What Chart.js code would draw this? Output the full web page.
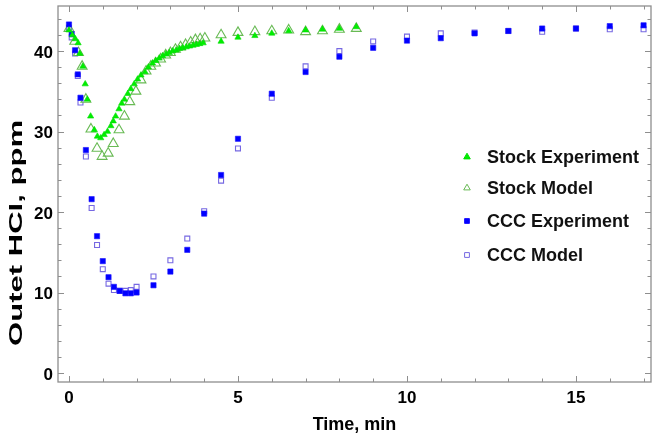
<!DOCTYPE html>
<html>
<head>
<meta charset="utf-8">
<script src="https://cdn.jsdelivr.net/npm/chart.js@4.4.1/dist/chart.umd.min.js"></script>
<style>
  html, body { margin: 0; padding: 0; background: #ffffff; }
  #wrap { width: 652px; height: 438px; }
</style>
</head>
<body>
<div id="wrap"><canvas id="chart" width="652" height="438"></canvas></div>
<script>
// Outlet HCl concentration (ppm) versus time (min)

const stockExpTime = [0, 0.1, 0.19, 0.27, 0.32, 0.41, 0.48, 0.54, 0.64, 0.75,
  0.84, 0.94, 1.04, 1.14, 1.24, 1.31, 1.38, 1.48, 1.56, 1.64,
  1.74, 1.83, 1.93, 2.03, 2.13, 2.25, 2.35, 2.47, 2.57, 2.67,
  2.77, 2.87, 2.97, 3.07, 3.17, 3.27, 3.37, 3.47, 3.57, 3.67,
  3.77, 3.87, 3.97, 4.5, 5, 5.5, 6, 6.5, 7, 7.5, 8, 8.5];
const stockExpHCl = [42.6, 42.0, 41.5, 41.0, 39.7, 38.1, 35.9, 34.0, 31.9, 30.2,
  29.4, 29.2, 29.6, 30.0, 30.7, 31.3, 31.9, 32.8, 33.5, 34.0,
  34.7, 35.3, 35.9, 36.5, 37.0, 37.4, 38.0, 38.5, 38.8, 39.1,
  39.4, 39.6, 39.8, 40.0, 40.1, 40.3, 40.4, 40.5, 40.6, 40.7,
  40.8, 40.9, 41.0, 41.2, 41.7, 41.9, 42.2, 42.5, 42.6, 42.7, 42.8, 43.0];

const stockModelTime = [0, 0.17, 0.28, 0.39, 0.5, 0.65, 0.83, 0.98, 1.16, 1.31,
  1.48, 1.64, 1.8, 1.98, 2.13, 2.28, 2.42, 2.56, 2.71, 2.86,
  3.0, 3.15, 3.3, 3.45, 3.6, 3.74, 3.88, 4.02,
  4.5, 5, 5.5, 6, 6.5, 7, 7.5, 8, 8.5];
const stockModelHCl = [42.8, 41.2, 39.8, 38.1, 34.0, 30.3, 27.9, 26.9, 27.3, 28.5,
  30.2, 31.9, 33.7, 35.0, 36.4, 37.5, 38.1, 38.5, 39.0, 39.5,
  39.8, 40.2, 40.5, 40.8, 41.1, 41.4, 41.5, 41.6,
  42.0, 42.3, 42.4, 42.5, 42.6, 42.4, 42.5, 42.7, 42.8];

const cccTime = [0, 0.08, 0.18, 0.26, 0.34, 0.5, 0.67, 0.83, 1, 1.17,
  1.33, 1.5, 1.67, 1.83, 2, 2.5, 3, 3.5, 4, 4.5,
  5, 6, 7, 8, 9, 10, 11, 12, 13, 14, 15, 16, 17];
const cccExpHCl = [43.3, 42.1, 40.1, 37.1, 34.2, 27.7, 21.6, 17.0, 13.9, 11.9,
  10.7, 10.2, 9.9, 9.9, 10.0, 10.9, 12.6, 15.3, 19.8, 24.6,
  29.1, 34.7, 37.4, 39.3, 40.4, 41.3, 41.6, 42.2, 42.5, 42.8, 42.8, 43.1, 43.2];
const cccModelHCl = [42.9, 41.7, 39.7, 36.9, 33.6, 26.9, 20.5, 15.9, 12.9, 11.1,
  10.3, 10.2, 10.2, 10.3, 10.7, 12.0, 14.0, 16.7, 20.1, 23.9,
  27.9, 34.2, 38.1, 40.0, 41.2, 41.8, 42.2, 42.3, 42.5, 42.4, 42.8, 42.7, 42.7];

const seriesNames = ['Stock Experiment', 'Stock Model', 'CCC Experiment', 'CCC Model'];
const xTickValues = [0, 5, 10, 15];
const yTickValues = [0, 10, 20, 30, 40];
const xTitle = 'Time, min';
const yTitle = 'Outet HCl, ppm';

const FONT = '"Liberation Sans", Arial, Helvetica, sans-serif';
Chart.defaults.font.family = FONT;

const toPoints = (xs, ys) => xs.map((t, i) => ({ x: t, y: ys[i] }));

const styles = [
  { pointStyle: 'triangle', radius: 3.6, bg: '#00ee00', border: '#00dd00', bw: 0.6, order: 0 },
  { pointStyle: 'triangle', radius: 5.7, bg: 'rgba(0,0,0,0)', border: 'rgb(104,186,84)', bw: 1.1, order: 1 },
  { pointStyle: 'rect', radius: 3.7, bg: '#0000ff', border: '#1a10ff', bw: 0.6, order: 0 },
  { pointStyle: 'rect', radius: 3.5, bg: 'rgba(0,0,0,0)', border: 'rgb(118,104,226)', bw: 1.1, order: 1 }
];
const seriesData = [
  toPoints(stockExpTime, stockExpHCl),
  toPoints(stockModelTime, stockModelHCl),
  toPoints(cccTime, cccExpHCl),
  toPoints(cccTime, cccModelHCl)
];

// Mathematica-style frame with inward major/minor ticks on all four sides
const framePlugin = {
  id: 'frame',
  beforeDatasetsDraw(chart) {
    const { ctx, chartArea: a, scales: { x, y } } = chart;
    ctx.save();
    ctx.strokeStyle = '#8e8e8e';
    ctx.lineWidth = 1.3;
    ctx.strokeRect(a.left, a.top, a.right - a.left, a.bottom - a.top);
    ctx.lineWidth = 1;
    const seg = (x1, y1, x2, y2) => { ctx.beginPath(); ctx.moveTo(x1, y1); ctx.lineTo(x2, y2); ctx.stroke(); };
    for (let v = Math.ceil(x.min); v <= x.max; v += 1) {
      const px = Math.round(x.getPixelForValue(v)) + 0.5;
      const len = xTickValues.includes(v) ? 6 : 3.5;
      seg(px, a.bottom, px, a.bottom - len);
      seg(px, a.top, px, a.top + len);
    }
    for (let v = Math.ceil(y.min / 2) * 2; v <= y.max; v += 2) {
      const py = Math.round(y.getPixelForValue(v)) + 0.5;
      const len = yTickValues.includes(v) ? 6 : 3.5;
      seg(a.left, py, a.left + len, py);
      seg(a.right, py, a.right - len, py);
    }
    ctx.restore();
  }
};

// Vertical axis title, drawn along the left edge
const yTitlePlugin = {
  id: 'yTitle',
  afterDraw(chart) {
    const { ctx } = chart;
    ctx.save();
    ctx.font = 'bold 18px ' + FONT;
    ctx.fillStyle = '#000';
    ctx.textAlign = 'center';
    ctx.textBaseline = 'middle';
    ctx.translate(17, 233);
    ctx.rotate(-Math.PI / 2);
    const w = ctx.measureText(yTitle).width;
    ctx.scale(226 / w, 1);
    ctx.fillText(yTitle, 0, 0);
    ctx.restore();
  }
};

// Legend placed inside the plot, to the right
const legendPlugin = {
  id: 'innerLegend',
  afterDraw(chart) {
    const { ctx } = chart;
    const rowsY = [157, 188, 221, 255];
    const markerX = 467, textX = 487;
    ctx.save();
    seriesNames.forEach((name, i) => {
      const s = styles[i];
      ctx.fillStyle = s.bg;
      ctx.strokeStyle = s.border;
      const r = s.pointStyle === 'triangle' ? 3.8 : 3.4;
      Chart.helpers.drawPoint(ctx, { pointStyle: s.pointStyle, radius: r, rotation: 0, borderWidth: s.bw }, markerX, rowsY[i]);
      ctx.fillStyle = '#111';
      ctx.font = 'bold 18px ' + FONT;
      ctx.textAlign = 'left';
      ctx.textBaseline = 'middle';
      ctx.fillText(name, textX, rowsY[i] + 1);
    });
    ctx.restore();
  }
};

// keep the plot frame exactly where the layout padding puts it
const noEdgePadding = s => {
  s.paddingLeft = 0; s.paddingRight = 0; s.paddingTop = 0; s.paddingBottom = 0;
};

new Chart(document.getElementById('chart'), {
  type: 'scatter',
  data: {
    datasets: seriesData.map((pts, i) => ({
      label: seriesNames[i],
      data: pts,
      showLine: false,
      pointStyle: styles[i].pointStyle,
      pointRadius: styles[i].radius,
      pointBackgroundColor: styles[i].bg,
      pointBorderColor: styles[i].border,
      pointBorderWidth: styles[i].bw,
      order: styles[i].order
    }))
  },
  options: {
    responsive: false,
    animation: false,
    events: [],
    layout: { autoPadding: false, padding: { top: 6, right: 1, left: 0, bottom: 0 } },
    plugins: { legend: { display: false }, tooltip: { enabled: false } },
    scales: {
      x: {
        type: 'linear',
        min: -0.325,
        max: 17.22,
        afterBuildTicks: s => { s.ticks = xTickValues.map(v => ({ value: v })); },
        afterFit: s => { s.height = 56; noEdgePadding(s); },
        grid: { display: false, drawTicks: false },
        border: { display: false },
        ticks: { color: '#000', font: { size: 17, weight: 'bold' }, padding: 6, maxRotation: 0, autoSkip: false },
        title: { display: true, text: xTitle, color: '#000', font: { size: 18, weight: 'bold' }, padding: { top: 0, bottom: 2 } }
      },
      y: {
        type: 'linear',
        min: -1.12,
        max: 45.6,
        afterBuildTicks: s => { s.ticks = yTickValues.map(v => ({ value: v })); },
        afterFit: s => { s.width = 58; noEdgePadding(s); },
        grid: { display: false, drawTicks: false },
        border: { display: false },
        ticks: { color: '#000', font: { size: 17, weight: 'bold' }, padding: 5, labelOffset: 2, autoSkip: false }
      }
    }
  },
  plugins: [framePlugin, yTitlePlugin, legendPlugin]
});
</script>
</body>
</html>
